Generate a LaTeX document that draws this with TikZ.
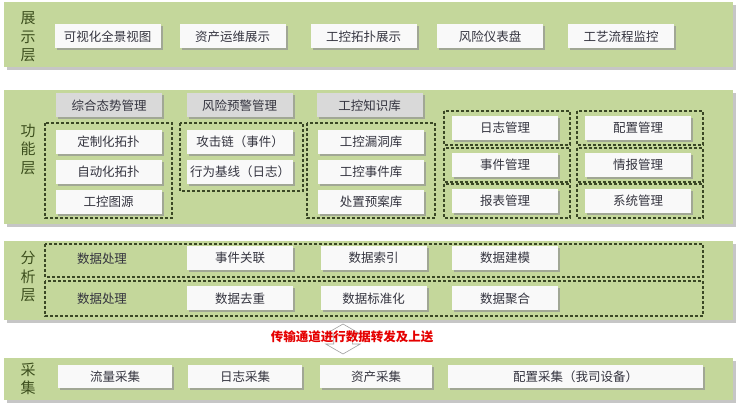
\documentclass[tikz,border=0pt]{standalone}
\usepackage{fontspec}
\newfontfamily\cjk{Noto Sans CJK SC}
\usepackage{xcolor}
\usetikzlibrary{shapes,arrows,shadows}
\definecolor{layergreen}{HTML}{C4D79B}
\definecolor{dashgreen}{HTML}{3A4725}
\definecolor{labelgreen}{HTML}{3D4F1E}
\definecolor{boxtext}{HTML}{34343F}

\begin{document}
\begin{tikzpicture}[x=1pt, y=-1pt,
    item/.style={fill=gray!5, draw=none, minimum width=106pt, minimum height=24pt, inner sep=0pt,
        font=\cjk\fontsize{12.5}{14}\selectfont, text=boxtext,
        drop shadow={shadow xshift=2pt, shadow yshift=-2pt, fill=gray!85, opacity=.7}},
    head/.style={item, fill=gray!30},
    group/.style={draw=dashgreen, line width=1.3pt, dash pattern=on 3pt off 2pt},
    tag/.style={font=\cjk\fontsize{15}{18.5}\selectfont, text=labelgreen, align=center}]

    \useasboundingbox (0,0) rectangle (740,403);

    % Presentation layer
    \fill[gray!45] (7,5) rectangle (736,70);
    \fill[layergreen] (4,2) rectangle (733,67);
    \node[tag] (tagShow) at (28,37) {展\\示\\层};
    \foreach \name/\x/\txt in {view/107.5/可视化全景视图, asset/232.5/资产运维展示, topo/363.5/工控拓扑展示,
                               risk/490/风险仪表盘, flow/621/工艺流程监控} {
        \node[item] (show-\name) at (\x,36.5) {\txt};
    }

    % Function layer
    \fill[gray!45] (7,93) rectangle (736,227);
    \fill[layergreen] (4,90) rectangle (733,224);
    \node[tag] (tagFunc) at (28,149) {功\\能\\层};
    \foreach \name/\x/\txt in {situ/109/综合态势管理, warn/239.5/风险预警管理, know/369.5/工控知识库} {
        \node[head] (head-\name) at (\x,105.5) {\txt};
    }
    \draw[group] (45,123) rectangle (172,218);
    \draw[group] (180,123) rectangle (303,191);
    \draw[group] (307,123) rectangle (435,218);
    \foreach \name/\y/\txt in {custom/142/定制化拓扑, auto/172/自动化拓扑, map/202/工控图源} {
        \node[item] (situ-\name) at (108.5,\y) {\txt};
    }
    \foreach \name/\y/\txt in {chain/142/攻击链（事件）, base/172/行为基线（日志）} {
        \node[item] (warn-\name) at (240,\y) {\txt};
    }
    \foreach \name/\y/\txt in {vuln/142/工控漏洞库, event/172/工控事件库, plan/202/处置预案库} {
        \node[item] (know-\name) at (371,\y) {\txt};
    }
    \foreach \top/\y/\txtA/\txtB in {111/128/日志管理/配置管理, 148/165/事件管理/情报管理, 184/201/报表管理/系统管理} {
        \draw[group] (444,\top) rectangle (570,\top+34);
        \draw[group] (577,\top) rectangle (703,\top+34);
        \node[item] at (505,\y) {\txtA};
        \node[item] at (638,\y) {\txtB};
    }

    % Analysis layer
    \fill[gray!45] (7,244) rectangle (736,323);
    \fill[layergreen] (4,241) rectangle (733,320);
    \node[tag] (tagAna) at (28,277) {分\\析\\层};
    \draw[group] (45,244) rectangle (703,277);
    \draw[group] (45,281) rectangle (703,316);
    \node[font=\cjk\fontsize{12.5}{14}\selectfont, text=boxtext] (procA) at (102,259) {数据处理};
    \node[font=\cjk\fontsize{12.5}{14}\selectfont, text=boxtext] (procB) at (102,299) {数据处理};
    \foreach \name/\x/\txtA/\txtB in {a/240/事件关联/数据去重, b/373.5/数据索引/数据标准化, c/505/数据建模/数据聚合} {
        \node[item] (anaA-\name) at (\x,258) {\txtA};
        \node[item] (anaB-\name) at (\x,298.5) {\txtB};
    }

    % Transfer channel
    \node[double arrow, draw=gray!75, line width=0.6pt, fill=white, shape border rotate=90,
          minimum height=30pt, double arrow head extend=8pt, double arrow tip angle=120,
          inner sep=9pt] (channel) at (343,339) {};
    \node[font=\cjk\bfseries\fontsize{12.5}{14}\selectfont, text=red!90!black] (channelTxt) at (352,337) {传输通道进行数据转发及上送};

    % Collection layer
    \fill[gray!45] (7,361) rectangle (736,403);
    \fill[layergreen] (4,358) rectangle (733,400);
    \node[tag, font=\cjk\fontsize{15}{18}\selectfont] (tagCol) at (28,379) {采\\集};
    \node[item, minimum width=114pt, minimum height=23pt] (col-flow) at (115,376.5) {流量采集};
    \node[item, minimum width=114pt, minimum height=23pt] (col-log) at (245,376.5) {日志采集};
    \node[item, minimum width=112pt, minimum height=23pt] (col-asset) at (376,376.5) {资产采集};
    \node[item, minimum width=255pt, minimum height=23pt] (col-conf) at (575.5,376.5) {配置采集（我司设备）};
\end{tikzpicture}
\end{document}
